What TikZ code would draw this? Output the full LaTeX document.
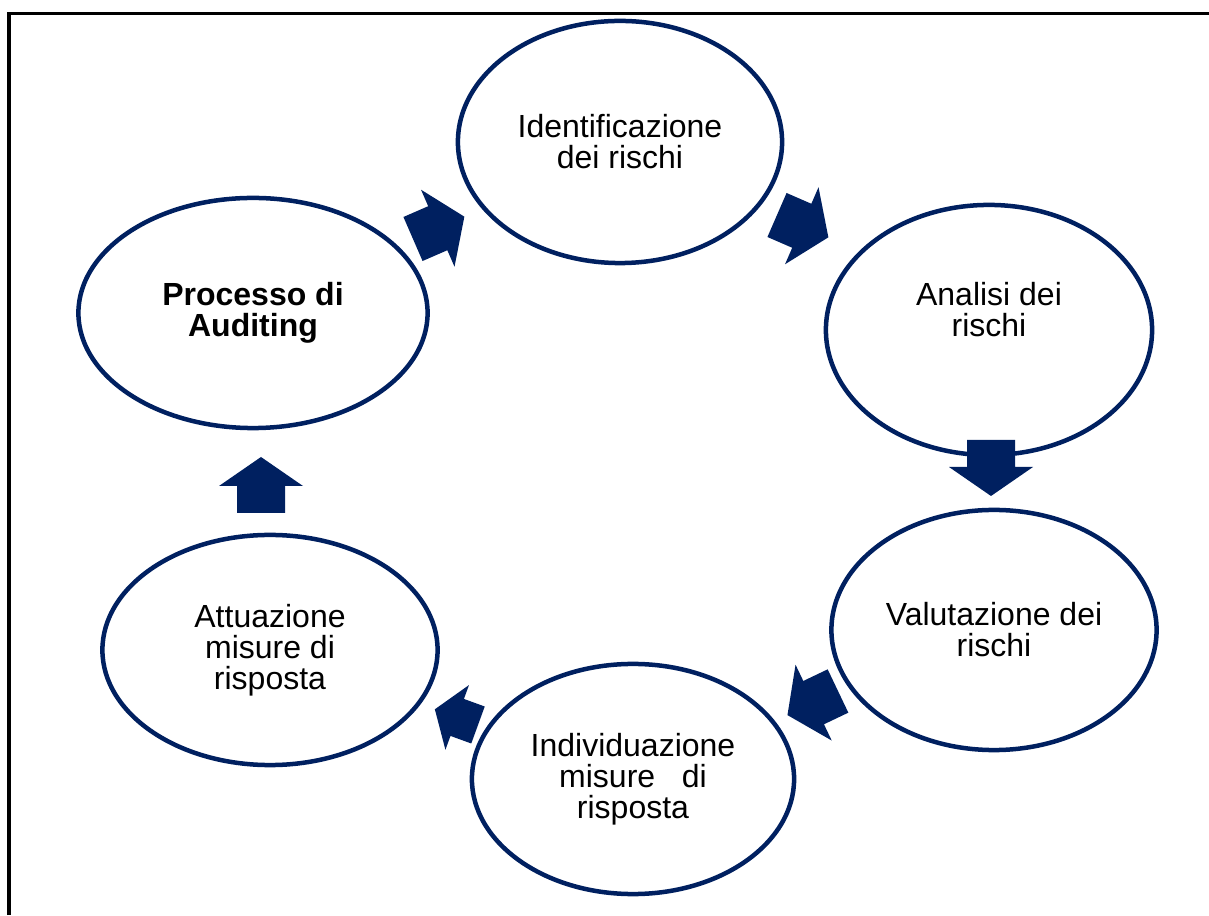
\documentclass[tikz,border=0pt]{standalone}
\usepackage{fontspec}
\setmainfont{Liberation Sans}
\usetikzlibrary{shapes.geometric}
\definecolor{navy}{RGB}{0,32,96}
\tikzset{
  phase/.style={ellipse, draw=navy, line width=0.45mm, inner sep=0pt, align=center,
    font=\fontsize{9.1}{8.8}\selectfont},
  phasetext/.style={align=center, inner sep=0pt, font=\fontsize{9.1}{8.8}\selectfont},
  arrowfill/.style={fill=navy}
}
\newcommand{\blockarrow}[4][1]{%
  \fill[arrowfill, shift={(#2,#3)}, rotate=#4, scale=#1] (0,-24) -- (27,-24) -- (27,-42) -- (56,0) -- (27,42) -- (27,24) -- (0,24) -- cycle;}
\begin{document}
\begin{tikzpicture}[x=0.01cm, y=0.01cm]
\useasboundingbox (0,0) rectangle (1209,915);
\draw[line width=0.3mm, black] (9,0) |- (1209,901);

\node[phase, minimum width=3.24cm, minimum height=2.42cm] (ident) at (620,773) {Identificazione\\dei rischi};
\node[phase, minimum width=3.26cm, minimum height=2.50cm] (analisi) at (989,585) {};
\node[phasetext] (analisi-t) at (989,605) {Analisi dei\\rischi};
\node[phase, minimum width=3.25cm, minimum height=2.40cm] (valut) at (994,285) {Valutazione dei\\rischi};
\node[phase, minimum width=3.22cm, minimum height=2.30cm] (indiv) at (633,136) {Individuazione\\misure\ \ \ di\\risposta};
\node[phase, minimum width=3.35cm, minimum height=2.30cm] (attua) at (270,265) {Attuazione\\misure di\\risposta};
\node[phase, minimum width=3.49cm, minimum height=2.30cm] (audit) at (253,602) {\textbf{Processo di}\\\textbf{Auditing}};

\blockarrow{413}{676}{23.5}
\blockarrow{777}{700}{-23.5}
\blockarrow{991}{475}{-90}
\blockarrow{838}{224}{205.5}
\blockarrow[0.82]{478}{190}{160}
\blockarrow{261}{402}{90}
\end{tikzpicture}
\end{document}
